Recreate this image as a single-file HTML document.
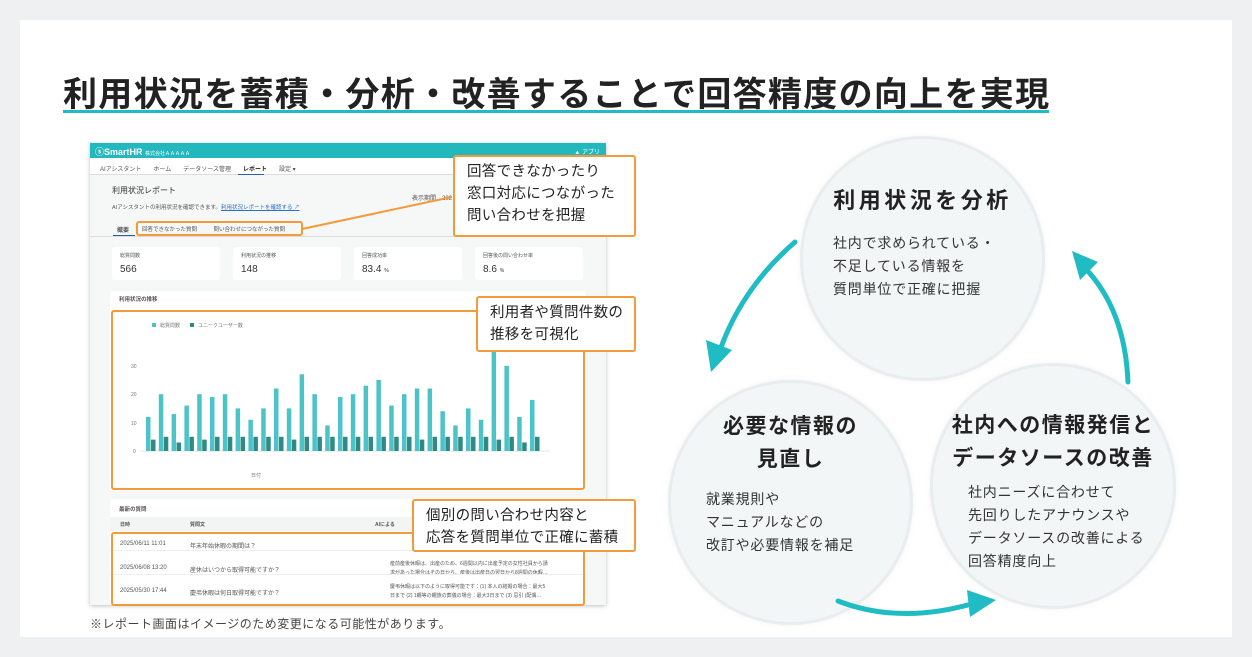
<!DOCTYPE html>
<html><head><meta charset="utf-8"><style>
*{margin:0;padding:0;box-sizing:border-box}
body{width:1252px;height:657px;background:#eef0f2;font-family:"Liberation Sans","Noto Sans CJK JP",sans-serif;position:relative;overflow:hidden;color:#222}
.a{position:absolute}
.panel{left:20px;top:20px;width:1212px;height:617px;background:#fff}
.title{left:63px;top:67px;font-size:34px;font-weight:bold;letter-spacing:1.3px;color:#222;white-space:nowrap}
.ul{left:63px;top:110px;width:986px;height:3px;background:#1fbcc3}
.shot{left:90px;top:143px;width:516px;height:462px;background:#f6f7f7;box-shadow:0 1px 4px rgba(0,0,0,.25);overflow:hidden}
.s{font-size:6px;color:#555;white-space:nowrap}
.card{background:#fff;border-radius:3px}
.ob{border:2px solid #f39a3a;border-radius:3px}
.call{background:#fff;border:2px solid #f39a3a;border-radius:3px;font-size:14.5px;line-height:22px;color:#222;padding:4px 12px;letter-spacing:.3px;white-space:nowrap}
.circ{border-radius:50%;background:#f2f6f7;border:3px solid #e8eeef;box-shadow:0 0 6px rgba(0,0,0,.05)}
.h{font-size:21px;font-weight:bold;letter-spacing:1.5px;line-height:33px;color:#222;white-space:nowrap;text-align:center}
.p{font-size:14px;line-height:23px;letter-spacing:.8px;color:#333;white-space:nowrap}
</style></head><body>
<div class="a panel"></div>
<div class="a title">利用状況を蓄積・分析・改善することで回答精度の向上を実現</div>
<div class="a ul"></div>

<div class="a shot">
  <div class="a" style="left:0;top:0;width:516px;height:15px;background:#22b8bd"></div>
  <div class="a" style="left:5px;top:2px;font-size:9px;font-weight:bold;color:#fff">ⓢSmartHR <span style="font-size:5px;font-weight:normal">株式会社ＡＡＡＡＡ</span></div>
  <div class="a" style="right:6px;top:4px;font-size:6px;color:#fff">▲ アプリ</div>
  <div class="a" style="left:0;top:15px;width:516px;height:17px;background:#fff;border-bottom:1px solid #ddd"></div>
  <div class="a s" style="left:10px;top:21px">AIアシスタント　　ホーム　　データソース管理　　<b style="color:#222">レポート</b>　　設定 ▾</div>
  <div class="a" style="left:148px;top:31px;width:26px;height:1px;background:#2a5ea8"></div>
  <div class="a" style="left:22px;top:42px;font-size:8px;color:#333">利用状況レポート</div>
  <div class="a s" style="left:22px;top:60px;font-size:5.5px">AIアシスタントの利用状況を確認できます。<span style="color:#2a6fc9;text-decoration:underline">利用状況レポートを確認する ↗</span></div>
  <div class="a s" style="left:322px;top:50px">表示期間　202</div>
  <div class="a s" style="left:27px;top:82px;font-weight:bold">概要</div>
  <div class="a" style="left:23px;top:92px;width:22px;height:1px;background:#2a5ea8"></div>
  <div class="a s" style="left:52px;top:82px;font-size:5.5px">回答できなかった質問　　　問い合わせにつながった質問</div>
  <div class="a" style="left:0;top:93px;width:516px;height:1px;background:#ddd"></div>
  <div class="a card" style="left:22px;top:104px;width:108px;height:33px"><div class="a s" style="left:8px;top:5px;font-size:5px">総質問数</div><div class="a" style="left:8px;top:17px;font-size:10px;color:#333">566</div></div>
  <div class="a card" style="left:143px;top:104px;width:108px;height:33px"><div class="a s" style="left:8px;top:5px;font-size:5px">利用状況の推移</div><div class="a" style="left:8px;top:17px;font-size:10px;color:#333">148</div></div>
  <div class="a card" style="left:264px;top:104px;width:108px;height:33px"><div class="a s" style="left:8px;top:5px;font-size:5px">回答成功率</div><div class="a" style="left:8px;top:17px;font-size:10px;color:#333">83.4 <span style="font-size:5px">%</span></div></div>
  <div class="a card" style="left:385px;top:104px;width:108px;height:33px"><div class="a s" style="left:8px;top:5px;font-size:5px">回答後の問い合わせ率</div><div class="a" style="left:8px;top:17px;font-size:10px;color:#333">8.6 <span style="font-size:5px">%</span></div></div>
  <div class="a card" style="left:20px;top:148px;width:476px;height:200px"></div>
  <div class="a s" style="left:29px;top:152px;font-weight:bold;font-size:5.5px">利用状況の推移</div>
  <div class="a card" style="left:20px;top:356px;width:476px;height:106px"></div>
  <div class="a s" style="left:29px;top:362px;font-weight:bold;font-size:5.5px">最新の質問</div>
  <div class="a" style="left:20px;top:374px;width:476px;height:14px;background:#f3f4f4"></div>
  <div class="a s" style="left:30px;top:378px;font-size:5px;font-weight:bold">日時　　　　　　　　　　　　質問文　　　　　　　　　　　　　　　　　　　　　　　　　　　　　　　　　　AIによる</div>
  <div class="a s" style="left:30px;top:398px">2025/06/11 11:01</div><div class="a s" style="left:100px;top:398px">年末年始休暇の期間は？</div>
  <div class="a s" style="left:30px;top:422px">2025/06/08 13:20</div><div class="a s" style="left:100px;top:422px">産休はいつから取得可能ですか？</div>
  <div class="a s" style="left:30px;top:445px">2025/05/30 17:44</div><div class="a s" style="left:100px;top:445px">慶弔休暇は何日取得可能ですか？</div>
  <div class="a s" style="left:300px;top:417px;font-size:5px;line-height:9px">産前産後休暇は、出産のため、6週間以内に出産予定の女性社員から請<br>求があった場合はその日から、産後は出産日の翌日から8週間の休暇…</div>
  <div class="a s" style="left:300px;top:440px;font-size:5px;line-height:9px">慶弔休暇は以下のように取得可能です：(1) 本人の結婚の場合：最大5<br>日まで (2) 1親等の親族の葬儀の場合：最大3日まで (3) 忌引 (配偶…</div>
  <div class="a" style="left:20px;top:407px;width:476px;height:1px;background:#eee"></div>
  <div class="a" style="left:20px;top:431px;width:476px;height:1px;background:#eee"></div>
</div>

<svg class="a" style="left:0;top:0" width="1252" height="657">
  <rect x="152" y="323" width="4" height="4" fill="#4cc3c6"/><text x="160" y="327" font-size="5" fill="#777">総質問数</text>
  <rect x="190" y="323" width="4" height="4" fill="#2f8a85"/><text x="198" y="327" font-size="5" fill="#777">ユニークユーザー数</text>
  <text x="131" y="368" font-size="5" fill="#777">30</text><text x="131" y="396" font-size="5" fill="#777">20</text><text x="131" y="425" font-size="5" fill="#777">10</text><text x="133" y="453" font-size="5" fill="#777">0</text>
  <text x="251" y="477" font-size="5" fill="#777">日付</text>
  <line x1="140" y1="451" x2="550" y2="451" stroke="#ccc" stroke-width=".6"/>
  <g transform="translate(0,451) scale(1,-2.84)" fill="#4cc3c6">
   <rect x="146" y="0" width="4.5" height="12"/><rect x="158.8" y="0" width="4.5" height="20"/><rect x="171.6" y="0" width="4.5" height="13"/><rect x="184.4" y="0" width="4.5" height="16"/><rect x="197.2" y="0" width="4.5" height="20"/><rect x="210" y="0" width="4.5" height="19"/><rect x="222.8" y="0" width="4.5" height="20"/><rect x="235.6" y="0" width="4.5" height="15"/><rect x="248.4" y="0" width="4.5" height="11"/><rect x="261.2" y="0" width="4.5" height="15"/><rect x="274" y="0" width="4.5" height="22"/><rect x="286.8" y="0" width="4.5" height="15"/><rect x="299.6" y="0" width="4.5" height="27"/><rect x="312.4" y="0" width="4.5" height="20"/><rect x="325.2" y="0" width="4.5" height="9"/><rect x="338" y="0" width="4.5" height="19"/><rect x="350.8" y="0" width="4.5" height="20"/><rect x="363.6" y="0" width="4.5" height="23"/><rect x="376.4" y="0" width="4.5" height="25"/><rect x="389.2" y="0" width="4.5" height="16"/><rect x="402" y="0" width="4.5" height="20"/><rect x="414.8" y="0" width="4.5" height="22"/><rect x="427.6" y="0" width="4.5" height="22"/><rect x="440.4" y="0" width="4.5" height="14"/><rect x="453.2" y="0" width="4.5" height="9"/><rect x="466" y="0" width="4.5" height="15"/><rect x="478.8" y="0" width="4.5" height="11"/><rect x="491.6" y="0" width="4.5" height="38"/><rect x="504.4" y="0" width="4.5" height="30"/><rect x="517.2" y="0" width="4.5" height="12"/><rect x="530" y="0" width="4.5" height="18"/>
  </g>
  <g transform="translate(0,451) scale(1,-2.84)" fill="#2f8a85">
   <rect x="151" y="0" width="4.5" height="4"/><rect x="163.8" y="0" width="4.5" height="5"/><rect x="176.6" y="0" width="4.5" height="3"/><rect x="189.4" y="0" width="4.5" height="5"/><rect x="202.2" y="0" width="4.5" height="4"/><rect x="215" y="0" width="4.5" height="5"/><rect x="227.8" y="0" width="4.5" height="5"/><rect x="240.6" y="0" width="4.5" height="5"/><rect x="253.4" y="0" width="4.5" height="5"/><rect x="266.2" y="0" width="4.5" height="5"/><rect x="279" y="0" width="4.5" height="5"/><rect x="291.8" y="0" width="4.5" height="4"/><rect x="304.6" y="0" width="4.5" height="5"/><rect x="317.4" y="0" width="4.5" height="5"/><rect x="330.2" y="0" width="4.5" height="5"/><rect x="343" y="0" width="4.5" height="5"/><rect x="355.8" y="0" width="4.5" height="5"/><rect x="368.6" y="0" width="4.5" height="5"/><rect x="381.4" y="0" width="4.5" height="5"/><rect x="394.2" y="0" width="4.5" height="5"/><rect x="407" y="0" width="4.5" height="5"/><rect x="419.8" y="0" width="4.5" height="4"/><rect x="432.6" y="0" width="4.5" height="5"/><rect x="445.4" y="0" width="4.5" height="5"/><rect x="458.2" y="0" width="4.5" height="5"/><rect x="471" y="0" width="4.5" height="5"/><rect x="483.8" y="0" width="4.5" height="5"/><rect x="496.6" y="0" width="4.5" height="4"/><rect x="509.4" y="0" width="4.5" height="5"/><rect x="522.2" y="0" width="4.5" height="3"/><rect x="535" y="0" width="4.5" height="5"/>
  </g>
  <line x1="452" y1="197" x2="302" y2="229" stroke="#f39a3a" stroke-width="2"/>
</svg>

<div class="a ob" style="left:136px;top:221px;width:167px;height:15px"></div>
<div class="a ob" style="left:111px;top:310px;width:474px;height:180px"></div>
<div class="a ob" style="left:111px;top:532px;width:474px;height:74px"></div>
<div class="a call" style="left:453px;top:155px;width:183px;height:82px">回答できなかったり<br>窓口対応につながった<br>問い合わせを把握</div>
<div class="a call" style="left:476px;top:296px;width:160px;height:56px">利用者や質問件数の<br>推移を可視化</div>
<div class="a call" style="left:412px;top:499px;width:224px;height:53px">個別の問い合わせ内容と<br>応答を質問単位で正確に蓄積</div>
<div class="a" style="left:90px;top:615px;font-size:12px;color:#444;letter-spacing:.5px">※レポート画面はイメージのため変更になる可能性があります。</div>

<div class="a circ" style="left:800px;top:136px;width:245px;height:245px"></div>
<div class="a circ" style="left:668px;top:380px;width:245px;height:245px"></div>
<div class="a circ" style="left:930px;top:363px;width:246px;height:246px"></div>

<div class="a h" style="left:800px;top:184px;width:245px;font-size:22px;letter-spacing:3.5px">利用状況を分析</div>
<div class="a p" style="left:833px;top:232px">社内で求められている・<br>不足している情報を<br>質問単位で正確に把握</div>
<div class="a h" style="left:668px;top:410px;width:245px">必要な情報の<br>見直し</div>
<div class="a p" style="left:706px;top:488px">就業規則や<br>マニュアルなどの<br>改訂や必要情報を補足</div>
<div class="a h" style="left:930px;top:409px;width:246px">社内への情報発信と<br>データソースの改善</div>
<div class="a p" style="left:968px;top:481px">社内ニーズに合わせて<br>先回りしたアナウンスや<br>データソースの改善による<br>回答精度向上</div>

<svg class="a" style="left:0;top:0" width="1252" height="657">
  <g fill="none" stroke="#1fbcc3" stroke-width="5" stroke-linecap="round">
    <path d="M795,242 Q742,288 720,350"/>
    <path d="M1128,382 Q1125,310 1085,268"/>
    <path d="M838,601 Q900,625 975,603"/>
  </g>
  <g fill="#1fbcc3">
    <polygon points="711,372 706,340 732,350"/>
    <polygon points="1072,251 1098,262 1080,280"/>
    <polygon points="996,600 967,590 970,617"/>
  </g>
</svg>
</body></html>
